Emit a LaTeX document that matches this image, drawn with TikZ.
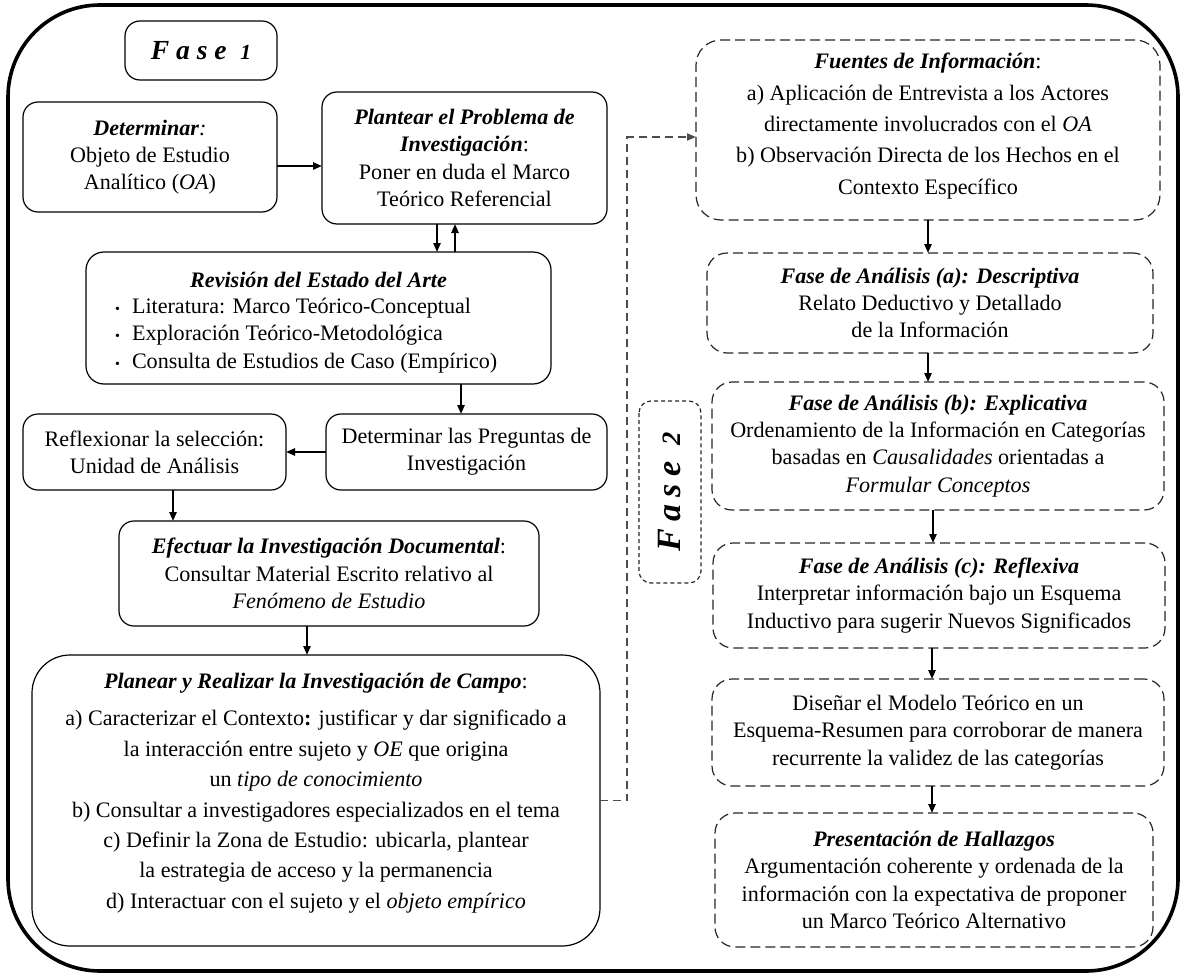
\documentclass[tikz,border=0pt]{standalone}
\usepackage{graphicx}
\usepackage{fontspec}
\setmainfont{Liberation Serif}
\usetikzlibrary{arrows.meta,calc}
% bold italic titles
\newcommand{\bi}[1]{\textbf{\textit{#1}}}
% small old-style looking numeral for the phase labels
\newcommand{\smallnum}[1]{\scalebox{0.78}{#1}}
\begin{document}
\begin{tikzpicture}[x=0.5pt,y=-0.5pt,
  every node/.style={inner sep=0pt, outer sep=0pt, align=center,
    font=\fontsize{11.05}{13.6}\selectfont},
  sbox/.style={draw=black, line width=0.6pt, rounded corners=7.5pt},
  dbox/.style={draw=black!85, line width=0.6pt, dash pattern=on 5pt off 2.5pt, rounded corners=10pt},
  fbox/.style={draw=black!85, line width=0.6pt, dash pattern=on 2pt off 1.5pt, rounded corners=6pt},
  arr/.style={-{Triangle[length=4.5pt,width=3.6pt]}, line width=1pt},
  link/.style={-{Triangle[length=4.5pt,width=3.6pt]}, draw=black!70, line width=0.7pt, dash pattern=on 4pt off 2.5pt}
]
\useasboundingbox (0,0) rectangle (1182,974);

% outer frame
\draw[line width=1.8pt, rounded corners=46pt] (8,5) rectangle (1178,971);

% ---------------- Fase 1 ----------------
\node[sbox, minimum width=76pt, minimum height=29.5pt] (f1) at (201,50.5)
  {\fontsize{13.8}{16}\selectfont\bfseries\itshape\addfontfeature{LetterSpace=25}Fase \smallnum{1}};

\node[sbox, minimum width=127pt, minimum height=55pt] (det) at (150,157)
  {\bi{Determinar}\textit{:}\\Objeto de Estudio\\Analítico (\textit{OA})};

\node[sbox, minimum width=142.5pt, minimum height=66pt] (pla) at (464.5,158)
  {\bi{Plantear el Problema de}\\\bi{Investigación}:\\Poner en duda el Marco\\Teórico Referencial};

\node[sbox, rounded corners=9pt, minimum width=232.5pt, minimum height=66pt] (rev) at (318.5,318) {};
\node (revT) at (318.5,280) {\bi{Revisión del Estado del Arte}};
\node[anchor=west, align=left, font=\fontsize{11.05}{13.8}\selectfont] (revL) at (115,335.5)
  {\makebox[8.5pt][l]{\fontsize{7}{7}\selectfont •}Literatura: Marco Teórico-Conceptual\\
   \makebox[8.5pt][l]{\fontsize{7}{7}\selectfont •}Exploración Teórico-Metodológica\\
   \makebox[8.5pt][l]{\fontsize{7}{7}\selectfont •}Consulta de Estudios de Caso (Empírico)};

\node[sbox, minimum width=140.5pt, minimum height=38pt] (preg) at (466.5,452)
  {Determinar las Preguntas de\\Investigación};
\node[sbox, minimum width=131.5pt, minimum height=38pt] (ref) at (154.5,452)
  {Reflexionar la selección:\\Unidad de Análisis};

\node[sbox, minimum width=210pt, minimum height=52.5pt] (eff) at (329,573.5)
  {\bi{Efectuar la Investigación Documental}:\\Consultar Material Escrito relativo al\\\textit{Fenómeno de Estudio}};

\node[sbox, rounded corners=19pt, minimum width=284pt, minimum height=145.5pt] (plan) at (316,800.5) {};
\node[font=\fontsize{11.05}{15.2}\selectfont] (planT) at (316,793)
  {\bi{Planear y Realizar la Investigación de Campo}:\\[3.6pt]
   a) Caracterizar el Contexto\textbf{:} justificar y dar significado a\\
   la interacción entre sujeto y \textit{OE} que origina\\
   un \textit{tipo de conocimiento}\\
   b) Consultar a investigadores especializados en el tema\\
   c) Definir la Zona de Estudio: ubicarla, plantear\\
   la estrategia de acceso y la permanencia\\
   d) Interactuar con el sujeto y el \textit{objeto empírico}};

% ---------------- Fase 2 ----------------
\node[fbox, rotate=90, minimum width=91pt, minimum height=31pt] (f2) at (670,492)
  {\fontsize{17}{20}\selectfont\bfseries\itshape\addfontfeature{LetterSpace=22}Fase \smallnum{2}};

\node[dbox, rounded corners=12.5pt, minimum width=232pt, minimum height=90pt] (fue) at (928,130) {};
\node[font=\fontsize{11.05}{15.7}\selectfont] (fueT) at (928,126)
  {\bi{Fuentes de Información}:\\a) Aplicación de Entrevista a los Actores\\directamente involucrados con el \textit{OA}\\b) Observación Directa de los Hechos en el\\Contexto Específico};

\node[dbox, minimum width=223pt, minimum height=50pt] (des) at (930,303)
  {\bi{Fase de Análisis (a): Descriptiva}\\Relato Deductivo y Detallado\\de la Información};

\node[dbox, minimum width=226pt, minimum height=64pt] (exp) at (938,446)
  {\bi{Fase de Análisis (b): Explicativa}\\Ordenamiento de la Información en Categorías\\basadas en \textit{Causalidades} orientadas a\\\textit{Formular Conceptos}};

\node[dbox, minimum width=226pt, minimum height=52.5pt] (refl) at (939,595.5)
  {\bi{Fase de Análisis (c): Reflexiva}\\Interpretar información bajo un Esquema\\Inductivo para sugerir Nuevos Significados};

\node[dbox, minimum width=226pt, minimum height=53.5pt] (dis) at (938,732.5)
  {Diseñar el Modelo Teórico en un\\Esquema-Resumen para corroborar de manera\\recurrente la validez de las categorías};

\node[dbox, minimum width=219pt, minimum height=67pt] (pre) at (934,880)
  {\bi{Presentación de Hallazgos}\\Argumentación coherente y ordenada de la\\información con la expectativa de proponer\\un Marco Teórico Alternativo};

% ---------------- connectors ----------------
\draw[arr] ([yshift=-4.5pt]det.east) -- ([yshift=-4.5pt]det.east -| pla.west);
\draw[arr] ([xshift=-13.75pt]pla.south) -- ([xshift=-13.75pt]pla.south |- rev.north);
\draw[arr] ([xshift=-4.75pt]pla.south |- rev.north) -- ([xshift=-4.75pt]pla.south);
\draw[arr] ([xshift=-2.75pt]preg.north |- rev.south) -- ([xshift=-2.75pt]preg.north);
\draw[arr] (preg.west) -- (ref.east);
\draw[arr] ([xshift=9.25pt]ref.south) -- ([xshift=9.25pt]ref.south |- eff.north);
\draw[arr] ([xshift=-11pt]eff.south) -- ([xshift=-11pt]eff.south |- plan.north);

\coordinate (jog) at (627,137);
\draw[link] (plan.east) -| (jog) |- ([yshift=-3.5pt]fue.west);

\draw[arr] (fue.south) -- (fue.south |- des.north);
\draw[arr] ([xshift=-1pt]des.south) -- ([xshift=-1pt]des.south |- exp.north);
\draw[arr] ([xshift=-2.5pt]exp.south) -- ([xshift=-2.5pt]exp.south |- refl.north);
\draw[arr] ([xshift=-3.5pt]refl.south) -- ([xshift=-3.5pt]refl.south |- dis.north);
\draw[arr] ([xshift=-3pt]dis.south) -- ([xshift=-3pt]dis.south |- pre.north);
\end{tikzpicture}
\end{document}
